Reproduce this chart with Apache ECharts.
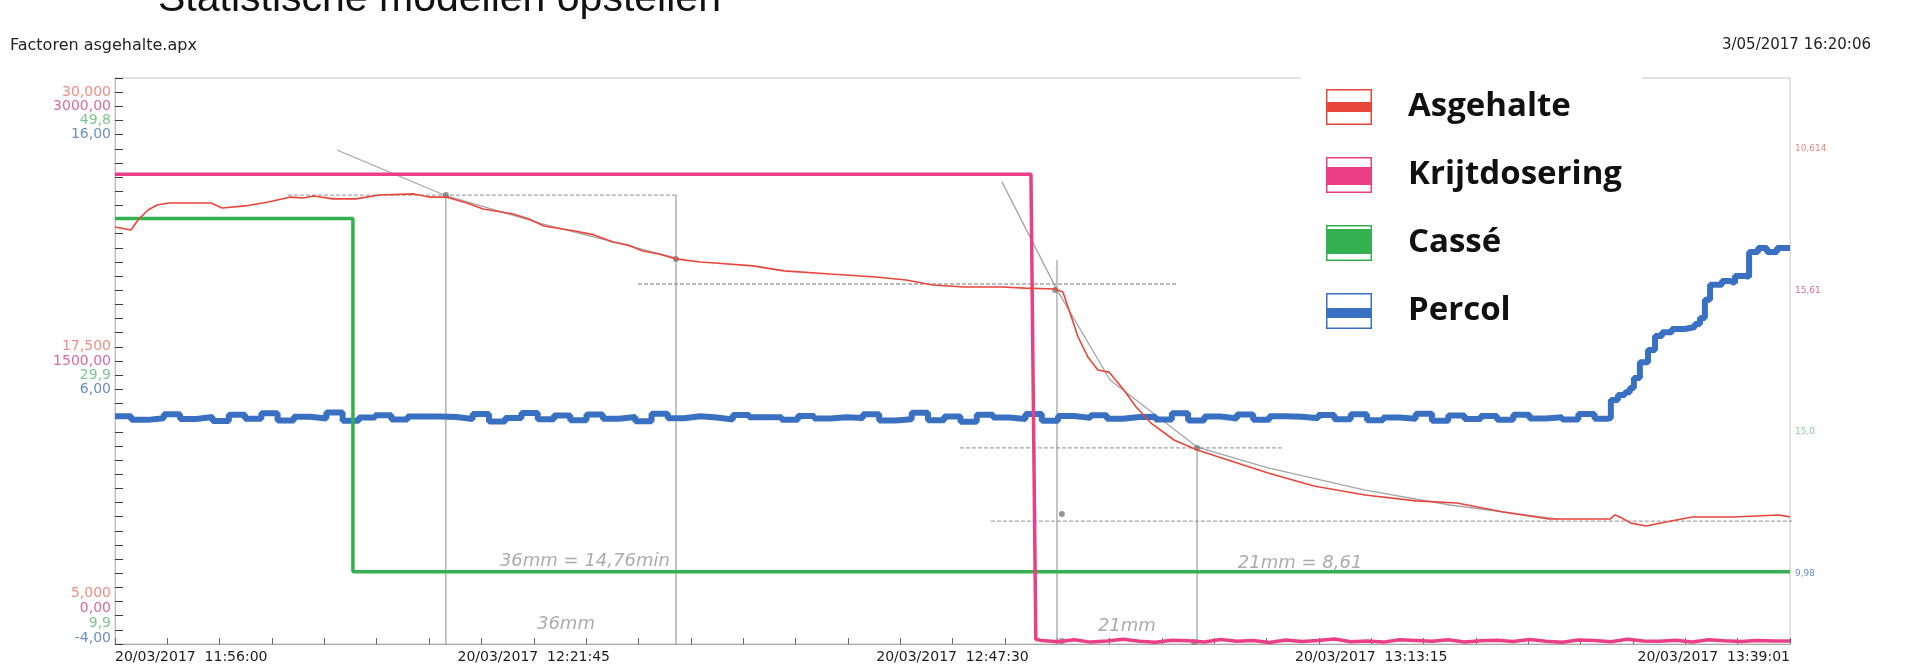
<!DOCTYPE html>
<html>
<head>
<meta charset="utf-8">
<title>Factoren asgehalte</title>
<script src="https://cdn.jsdelivr.net/npm/echarts@6/dist/echarts.min.js"></script>
<style>
  html, body { margin: 0; padding: 0; background: #ffffff; }
  #chart { width: 1907px; height: 670px; }
</style>
</head>
<body>
<div id="chart"></div>
<script>
// Time is stored as seconds after 20/03/2017 11:56:00.
const T_END = 6181;                 // 13:39:01
const X_STEP = 193.15625;           // 32 small divisions, a date label every 8th
const xTickLabels = [
  '20/03/2017  11:56:00',
  '20/03/2017  12:21:45',
  '20/03/2017  12:47:30',
  '20/03/2017  13:13:15',
  '20/03/2017  13:39:01'
];

// Stacked scale labels (max, middle, min) for each trace
const asgScale    = ['30,000', '17,500', '5,000'];
const krijtScale  = ['3000,00', '1500,00', '0,00'];
const casseScale  = ['49,8', '29,9', '9,9'];
const percolScale = ['16,00', '6,00', '-4,00'];

// Asgehalte: [seconds, value]
const asgehalte = [
  [0,23.42],[59,23.29],[85,23.73],[122,24.17],[155,24.39],[199,24.48],[354,24.48],[395,24.26],
  [480,24.35],[565,24.52],[649,24.74],[694,24.70],[734,24.79],[804,24.66],[889,24.66],[974,24.83],
  [1103,24.88],[1159,24.74],[1221,24.74],[1299,24.48],[1358,24.21],[1469,23.99],[1528,23.77],
  [1583,23.46],[1697,23.24],[1768,23.07],[1838,22.76],[1893,22.62],[1948,22.36],[2007,22.23],
  [2070,22.01],[2159,21.87],[2214,21.83],[2354,21.70],[2469,21.48],[2638,21.34],[2808,21.21],
  [2919,21.08],[3018,20.86],[3133,20.77],[3273,20.77],[3358,20.72],[3469,20.68],[3498,20.55],
  [3554,18.56],[3590,17.68],[3627,17.10],[3668,17.01],[3723,16.22],[3768,15.47],[3823,14.76],
  [3908,14.01],[3993,13.57],[4107,13.13],[4255,12.55],[4424,11.98],[4613,11.58],[4801,11.32],
  [4952,11.23],[5122,10.83],[5292,10.52],[5517,10.52],[5535,10.70],[5554,10.61],[5594,10.34],
  [5650,10.21],[5723,10.39],[5819,10.61],[5971,10.61],[6140,10.70],[6181,10.614]
];

// Krijtdosering: constant dosing, switched off, then the residual signal every 60 s from 3420 s
const krijtOn = [[0,2490],[3380,2490],[3398,25]];
const KRIJT_LOW_START = 3420;
const krijtLow = [18,12,22,10,16,25,14,9,20,17,11,24,15,19,8,21,13,18,26,12,16,10,22,19,14,
                  23,11,17,20,13,24,15,9,21,18,12,25,16,14,20,11,22,17,13,19,16];
const krijtEnd = [6181,15.61];

// Cassé
const casse = [[0,39.9],[878,39.9],[878,15.0],[6181,15.0]];

// Percol: samples every 60 s up to 5460 s, then the rise at the end
const percolBase = [
  4.05,3.92,3.98,4.12,3.95,4.02,3.88,4.10,3.96,4.15,3.90,4.03,
  3.97,4.18,3.89,4.00,4.08,3.93,4.04,4.04,4.02,3.95,4.13,3.86,
  3.99,4.16,3.94,4.07,3.91,4.11,3.96,4.02,3.87,4.14,3.98,4.05,
  4.00,3.93,4.09,4.01,4.01,3.92,4.06,3.97,4.01,3.99,4.12,3.90,
  3.94,4.17,3.91,4.04,3.85,4.10,4.00,3.95,4.13,3.89,4.06,3.99,
  4.08,3.96,4.02,4.03,3.93,4.15,3.90,4.04,3.97,4.11,3.92,4.05,
  4.03,3.98,4.09,3.94,4.12,3.91,4.00,3.96,4.14,3.89,4.07,3.95,
  4.06,3.92,4.10,3.97,4.01,3.93,4.13,3.96
];
const percolRise = [
  [5509,3.99],[5520,4.62],[5546,4.80],[5572,4.90],[5590,5.05],[5605,5.40],[5627,5.96],[5657,6.39],
  [5683,6.88],[5709,7.02],[5745,7.13],[5793,7.20],[5830,7.31],[5849,7.52],[5867,8.16],[5886,8.69],
  [5930,8.83],[5960,8.76],[5978,9.00],[6019,8.97],[6030,9.85],[6063,9.99],[6096,9.85],[6133,9.99],
  [6181,9.98]
];

// Pencil construction lines, in Asgehalte units
const pencilLines = [
  [[819,26.82],[1221,24.80],[1580,23.55],[2070,22.05]],
  [[638,24.83],[2070,24.83]],
  [[1221,24.83],[1221,5]],
  [[2070,24.83],[2070,5]],
  [[1930,20.90],[3922,20.90]],
  [[3273,25.41],[3476,20.64],[3672,16.66],[3993,13.70]],
  [[3476,21.96],[3476,5]],
  [[3118,13.66],[4314,13.66]],
  [[3993,13.66],[3993,5]],
  [[3993,13.70],[4255,12.78],[4613,11.80],[4926,11.14],[5328,10.52]],
  [[3232,10.43],[6443,10.43]]
];
const pencilDots = [[1221,24.83],[2070,22.01],[3469,20.64],[3993,13.66],[3494,10.74],[3494,5.13],[3982,5.09]];
const pencilNotes = [
  { name: '36mm = 14,76min', value: [1734, 8.67] },
  { name: '36mm',            value: [1664, 5.88] },
  { name: '21mm = 8,61',     value: [4373, 8.58] },
  { name: '21mm',            value: [3734, 5.79] }
];

// ---- assembled series data ----
const percol = percolBase.map((v, i) => [i * 60, v]).concat(percolRise);
const krijt = krijtOn.concat(krijtLow.map((v, i) => [KRIJT_LOW_START + i * 60, v]), [krijtEnd]);

const COLORS = { asg: '#e8463b', krijt: '#ea3f86', casse: '#33b04f', percol: '#3a70c2' };
const SCALE_COLORS = ['#ee8d85', '#db6aa3', '#7cc68e', '#6d8eba'];
const END_COLORS   = ['#e8877f', '#d96aa0', '#8ccf9e', '#6a8fc0'];
const SCALE_SLOTS = [1, 19, 36];     // top, middle, bottom groups on the 40-division scale
const scales = [asgScale, krijtScale, casseScale, percolScale];

const traces = [
  { name: 'Asgehalte',     data: asgehalte, decimals: 3 },
  { name: 'Krijtdosering', data: krijt,     decimals: 2 },
  { name: 'Cassé',         data: casse,     decimals: 1 },
  { name: 'Percol',        data: percol,    decimals: 2 }
];
const fmt = (v, d) => v.toFixed(d).replace('.', ',');

const iconPath = (a, b) =>
  'path://M0,0H46V36H0Z M1.5,1.5V34.5H44.5V1.5Z M1.5,' + a + 'H44.5V' + b + 'H1.5Z';

// rich styles for the stacked scale; the bottom group sits a little lower than its ticks
const richScale = {};
SCALE_COLORS.forEach((c, i) => {
  richScale['s' + i] = { color: c, fontSize: 14, fontFamily: 'DejaVu Sans' };
  richScale['b' + i] = { color: c, fontSize: 14, fontFamily: 'DejaVu Sans', padding: [11 + 2 * i, 0, 0, 0] };
});
const richEnd = {};
END_COLORS.forEach((c, i) => { richEnd['e' + i] = { color: c, fontSize: 9, fontFamily: 'DejaVu Sans' }; });

const chart = echarts.init(document.getElementById('chart'), null, { renderer: 'canvas' });

const pencilSeries = pencilLines.map((line, i) => ({
  type: 'line', name: 'pencil' + i, data: line, yAxisIndex: 0,
  symbol: 'none', silent: true, clip: false, z: 1,
  lineStyle: { color: '#8e8e8e', width: 1.3, opacity: 0.8,
               type: (line[0][1] === line[1][1]) ? [4, 2] : 'solid' }
}));

chart.setOption({
  animation: false,
  backgroundColor: '#ffffff',
  title: [
    { text: 'Statistische modellen opstellen', left: 158, top: -21, padding: 0,
      textStyle: { fontSize: 41, fontWeight: 'normal', color: '#111', fontFamily: 'Liberation Sans' } },
    { text: 'Factoren asgehalte.apx', left: 10, top: 38, padding: 0,
      textStyle: { fontSize: 16, fontWeight: 'normal', color: '#222', fontFamily: 'DejaVu Sans' } },
    { text: '3/05/2017 16:20:06', right: 36, top: 38, padding: 0,
      textStyle: { fontSize: 15, fontWeight: 'normal', color: '#222', fontFamily: 'DejaVu Sans' } }
  ],
  legend: {
    orient: 'vertical', left: 1301, top: 62,
    padding: [27, 20, 30, 25],
    backgroundColor: '#ffffff', z: 10,
    itemWidth: 46, itemHeight: 36, itemGap: 32,
    selectedMode: false,
    itemStyle: { borderWidth: 0 },
    textStyle: { fontFamily: 'Open Sans', fontWeight: 'bold', fontSize: 33, color: '#111',
                 lineHeight: 36, padding: [0, 0, 0, 31] },
    data: [
      { name: 'Asgehalte',     icon: iconPath(13, 23) },
      { name: 'Krijtdosering', icon: iconPath(10, 28) },
      { name: 'Cassé',         icon: iconPath(4, 29) },
      { name: 'Percol',        icon: iconPath(15, 25) }
    ]
  },
  grid: {
    left: 115, right: 117, top: 78, bottom: 26,
    show: true, borderColor: '#c6c6c6', borderWidth: 1,
    containLabel: false, outerBoundsMode: 'none'
  },
  xAxis: {
    type: 'value', min: 0, max: T_END, interval: X_STEP,
    axisLine: { lineStyle: { color: '#a8a8a8' } },
    axisTick: { inside: true, length: 6, lineStyle: { color: '#6a6a6a' } },
    splitLine: { show: false },
    axisLabel: {
      margin: 6, color: '#1e1e1e', fontSize: 14, fontFamily: 'DejaVu Sans',
      alignMinLabel: 'left', alignMaxLabel: 'right', hideOverlap: false,
      formatter: (v) => {
        const k = Math.round(v / X_STEP);
        return k % 8 === 0 ? xTickLabels[k / 8] : '';
      }
    }
  },
  yAxis: [
    { type: 'value', min: 5,   max: 30,   show: false },
    { type: 'value', min: 0,   max: 3000, show: false },
    { type: 'value', min: 9.9, max: 49.8, show: false },
    { type: 'value', min: -4,  max: 16,   show: false },
    { // stacked scale labels on a 40-division ruler
      type: 'value', min: 0, max: 40, interval: 1, inverse: true, position: 'left',
      axisLine: { show: true, lineStyle: { color: '#bdbdbd' } },
      axisTick: { show: true, inside: true, length: 8, lineStyle: { color: '#3c3c3c' } },
      splitLine: { show: false },
      axisLabel: {
        margin: 4, rich: richScale, hideOverlap: false,
        formatter: (v) => {
          const k = Math.round(v);
          for (let s = 0; s < 4; s++) {
            for (let g = 0; g < 3; g++) {
              if (SCALE_SLOTS[g] + s === k) {
                return '{' + (g === 2 ? 'b' : 's') + s + '|' + scales[s][g] + '}';
              }
            }
          }
          return '';
        }
      }
    },
    { // end values of each trace
      type: 'category', position: 'right', inverse: true,
      data: traces.map(t => t.name),
      axisLine: { show: false }, axisTick: { show: false }, splitLine: { show: false },
      axisLabel: {
        margin: 5, rich: richEnd,
        formatter: (name, idx) => {
          const t = traces[idx];
          return '{e' + idx + '|' + fmt(t.data[t.data.length - 1][1], t.decimals) + '}';
        }
      }
    }
  ],
  series: pencilSeries.concat([
    {
      type: 'scatter', name: 'pencilDots', data: pencilDots, yAxisIndex: 0, silent: true,
      symbolSize: 6, itemStyle: { color: '#7a7a7a', opacity: 0.8 }, z: 1
    },
    {
      type: 'scatter', name: 'pencilNotes', data: pencilNotes, yAxisIndex: 0, silent: true,
      symbolSize: 0, z: 1,
      label: { show: true, position: 'inside', formatter: '{b}', color: '#969696',
               fontSize: 18, fontStyle: 'italic', fontFamily: 'DejaVu Sans' }
    },
    {
      type: 'line', name: 'Percol', data: percol, yAxisIndex: 3, step: 'end',
      symbol: 'none', color: COLORS.percol, lineStyle: { width: 6, color: COLORS.percol }, z: 3
    },
    {
      type: 'line', name: 'Cassé', data: casse, yAxisIndex: 2,
      symbol: 'none', color: COLORS.casse, lineStyle: { width: 3.5, color: COLORS.casse }, z: 4
    },
    {
      type: 'line', name: 'Krijtdosering', data: krijt, yAxisIndex: 1,
      symbol: 'none', color: COLORS.krijt, lineStyle: { width: 3.5, color: COLORS.krijt }, z: 5
    },
    {
      type: 'line', name: 'Asgehalte', data: asgehalte, yAxisIndex: 0,
      symbol: 'none', color: COLORS.asg, lineStyle: { width: 1.6, color: COLORS.asg }, z: 6
    }
  ])
});
</script>
</body>
</html>
